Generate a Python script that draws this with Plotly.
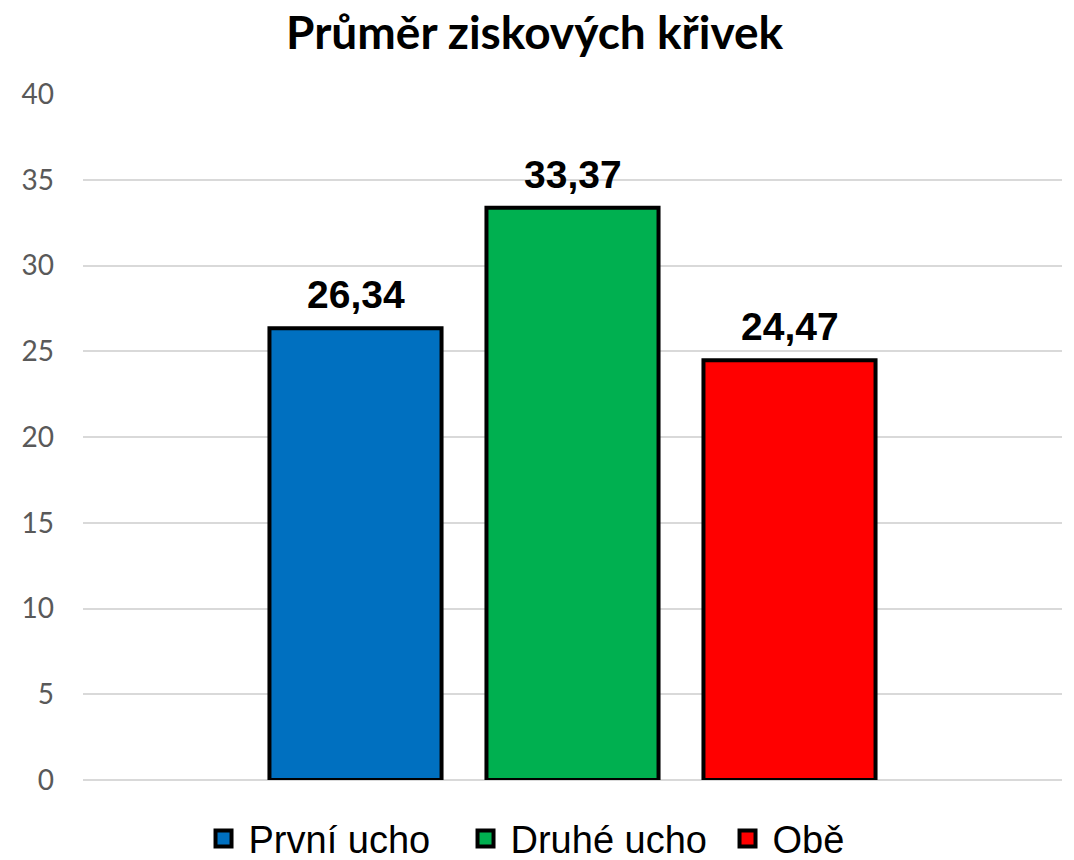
import plotly.graph_objects as go

# data
categories = ["První ucho", "Druhé ucho", "Obě"]
values = [26.34, 33.37, 24.47]
colors = ["#0070C0", "#00B050", "#FF0000"]
y_ticks = [0, 5, 10, 15, 20, 25, 30, 35, 40]

title = "Průměr ziskových křivek"

fig = go.Figure()
for name, val, col in zip(categories, values, colors):
    fig.add_trace(go.Bar(
        x=[name], y=[val], name=name, width=0.793, showlegend=False,
        marker=dict(color=col, line=dict(color="black", width=4)),
    ))
    # legend entry with a bigger square than the bar legend symbol
    fig.add_trace(go.Scatter(
        x=[None], y=[None], name=name, mode="markers",
        marker=dict(symbol="square", size=22, color=col, line=dict(color="black", width=4)),
    ))
    fig.add_annotation(
        x=name, y=val, text="<b>" + f"{val:.2f}".replace(".", ",") + "</b>",
        showarrow=False, yanchor="bottom", yshift=10,
        font=dict(family="Liberation Sans", size=39, color="black"),
    )

fig.update_layout(
    width=1066, height=852,
    paper_bgcolor="white", plot_bgcolor="white",
    margin=dict(l=75, r=12, t=86, b=80, autoexpand=False),
    title=dict(text="<b>" + title + "</b>", x=0.494, xanchor="center", y=0.971, yanchor="middle",
               font=dict(family="Lato", size=46, color="black")),
    barmode="overlay",
    showlegend=True,
    legend=dict(orientation="h", x=0.118, xanchor="left", yref="container", y=0.025, yanchor="middle",
                font=dict(family="Liberation Sans", size=38, color="black"),
                itemwidth=40, entrywidth=207, traceorder="normal"),
    xaxis=dict(range=[-1.2558, 3.2558], showticklabels=False, showgrid=False, zeroline=False,
               showline=False, ticks=""),
    yaxis=dict(range=[0, 40], tickvals=y_ticks, showgrid=True, gridcolor="#D9D9D9", gridwidth=1.5,
               zeroline=True, zerolinecolor="#D9D9D9", zerolinewidth=1.5, showline=False,
               automargin=False,
               tickfont=dict(family="Lato", size=28, color="#595959"), ticklabelstandoff=28),
)

fig.write_html("out.html")
